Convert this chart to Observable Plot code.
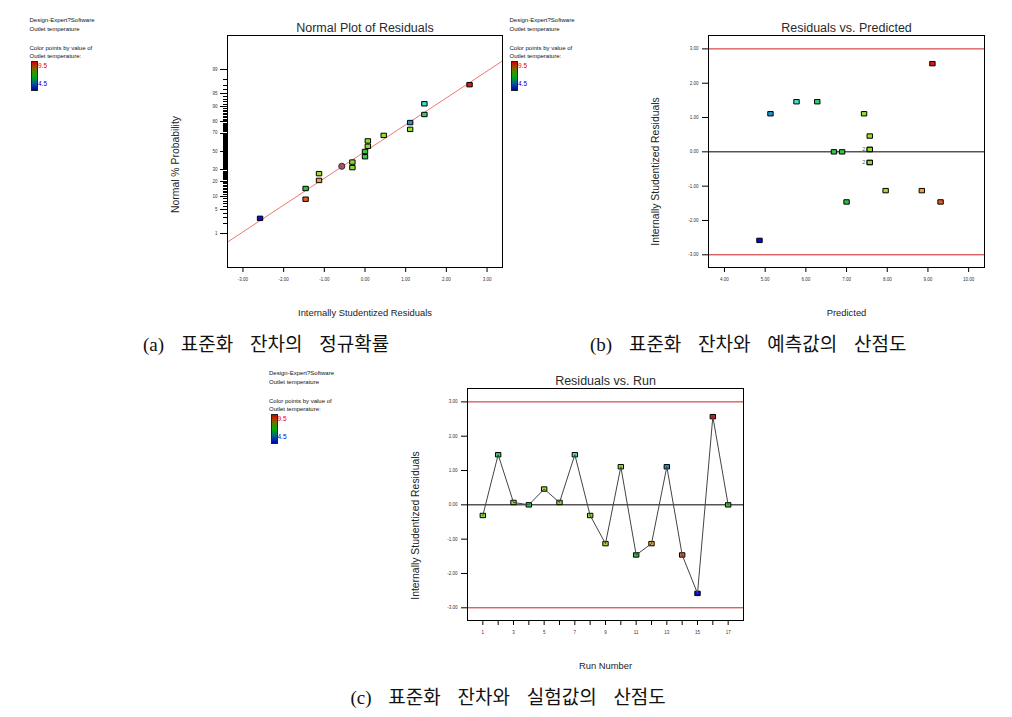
<!DOCTYPE html>
<html>
<head>
<meta charset="utf-8">
<script src="https://cdn.jsdelivr.net/npm/d3@7"></script>
<script src="https://cdn.jsdelivr.net/npm/@observablehq/plot@0.6"></script>
<style>
  html, body { margin: 0; padding: 0; background: #fff; }
  #page { position: relative; width: 1012px; height: 717px; background: #fff; overflow: hidden; }
  .chart { position: absolute; }
  .leg { position: absolute; font-family: "Liberation Sans", Arial, sans-serif; font-size: 6px; color: #111; line-height: 1; white-space: nowrap; }
  .bar { position: absolute; width: 5px; height: 28px; border: 0.6px solid #222;
         background: linear-gradient(#d80000, #7a6a00 25%, #00b000 50%, #006090 75%, #0000b0); }
  .cap { position: absolute; font-family: "Liberation Serif", "Noto Sans CJK KR", serif; font-size: 19px;
         letter-spacing: 0px; word-spacing: 12px; color: #111; line-height: 1; white-space: nowrap; }
</style>
</head>
<body>
<div id="page"></div>
<script>
// ---------------- data ----------------
const runs        = [1, 2, 3, 4, 5, 6, 7, 8, 9, 10, 11, 12, 13, 14, 15, 16, 17];
const predicted   = [7.57, 6.28, 7.57, 6.69, 7.57, 7.57, 5.77, 7.57, 7.96, 7.43, 7.00, 8.85, 5.13, 9.31, 4.86, 9.11, 6.89];
const residuals   = [-0.31, 1.46, 0.07, 0.00, 0.46, 0.07, 1.46, -0.31, -1.13, 1.11, -1.46, -1.13, 1.11, -1.46, -2.58, 2.57, 0.00];
const outletTemp  = [7.52, 6.50, 7.58, 6.69, 7.64, 7.58, 5.99, 7.52, 7.79, 7.60, 6.78, 8.68, 5.30, 9.09, 4.50, 9.50, 6.89];
const normalPct   = [32.4, 85.3, 55.9, 44.1, 67.6, 61.8, 91.2, 38.2, 26.5, 73.5, 14.7, 20.6, 79.4, 8.8, 2.9, 97.1, 50.0];
const highlightPt = [{res: -0.57, pct: 33.8}];
const fitLine     = [{res: -3.38, pct: 0.51}, {res: 3.38, pct: 99.49}];
const overlapMarks = [{pred: 7.57, res: 0.07, count: 2}, {pred: 7.57, res: -0.31, count: 2}];
const limits      = [-3, 3];

const xTicksA  = [-3, -2, -1, 0, 1, 2, 3];
const xTicksB  = [4, 5, 6, 7, 8, 9, 10];
const xTicksC  = [1, 2, 3, 4, 5, 6, 7, 8, 9, 10, 11, 12, 13, 14, 15, 16, 17];
const yTicksRes = [-3, -2, -1, 0, 1, 2, 3];
const probLabels = [1, 5, 10, 20, 30, 50, 70, 80, 90, 95, 99];
const probMinor  = d3.range(1, 100);

const colorStops = [4.5, 5.3, 6.0, 6.8, 7.7, 8.7, 9.5];
const colorRange = ["#0a0ad8", "#2090d0", "#40e0c8", "#30c040", "#a0e030", "#f0a030", "#d81818"];

// ---------------- helpers ----------------
function probit(p) {
  const a = [-3.969683028665376e+01, 2.209460984245205e+02, -2.759285104469687e+02, 1.383577518672690e+02, -3.066479806614716e+01, 2.506628277459239e+00];
  const b = [-5.447609879822406e+01, 1.615858368580409e+02, -1.556989798598866e+02, 6.680131188771972e+01, -1.328068155288572e+01];
  const c = [-7.784894002430293e-03, -3.223964580411365e-01, -2.400758277161838e+00, -2.549732539343734e+00, 4.374664141464968e+00, 2.938163982698783e+00];
  const d = [7.784695709041462e-03, 3.224671290700398e-01, 2.445134137142996e+00, 3.754408661907416e+00];
  const pl = 0.02425, ph = 1 - pl;
  let q, r;
  if (p < pl) {
    q = Math.sqrt(-2 * Math.log(p));
    return (((((c[0]*q+c[1])*q+c[2])*q+c[3])*q+c[4])*q+c[5]) / ((((d[0]*q+d[1])*q+d[2])*q+d[3])*q+1);
  }
  if (p <= ph) {
    q = p - 0.5; r = q * q;
    return (((((a[0]*r+a[1])*r+a[2])*r+a[3])*r+a[4])*r+a[5])*q / (((((b[0]*r+b[1])*r+b[2])*r+b[3])*r+b[4])*r+1);
  }
  q = Math.sqrt(-2 * Math.log(1 - p));
  return -(((((c[0]*q+c[1])*q+c[2])*q+c[3])*q+c[4])*q+c[5]) / ((((d[0]*q+d[1])*q+d[2])*q+d[3])*q+1);
}
const zOf = d => probit(d.pct / 100);
const fmt2 = d => d.toFixed(2);
const majorZ = probLabels.map(p => probit(p / 100));
const majorLabel = new Map(majorZ.map((z, i) => [z, String(probLabels[i])]));
const minorZ = probMinor.map(p => probit(p / 100));

const table = runs.map((run, i) => ({
  run, pred: predicted[i], res: residuals[i], temp: outletTemp[i], pct: normalPct[i]
}));

const box = {
  draw(ctx) {
    ctx.moveTo(-2.7, -2.2); ctx.lineTo(2.7, -2.2); ctx.lineTo(2.7, 2.2); ctx.lineTo(-2.7, 2.2); ctx.closePath();
  }
};

const colorOpt = {type: "linear", domain: colorStops, range: colorRange, interpolate: "rgb"};
const svgStyle = {fontFamily: "Liberation Sans, Arial, sans-serif", fontSize: "4.5px", background: "transparent", overflow: "visible", color: "#000"};
const FONT = "Liberation Sans, Arial, sans-serif";

function titleMark(t, dy) {
  return Plot.text([t], {text: d => d, frameAnchor: "top", lineAnchor: "middle", dy, fontSize: 12.5, fill: "#2a2a2a", fontFamily: FONT});
}
function xLabelMark(t, dy) {
  return Plot.text([t], {text: d => d, frameAnchor: "bottom", lineAnchor: "middle", dy, fontSize: 9.4, fill: "#222", fontFamily: FONT});
}
function yLabelMark(t, dx, dy) {
  return Plot.text([t], {text: d => d, frameAnchor: "left", textAnchor: "middle", lineAnchor: "middle", dx, dy, rotate: -90, fontSize: 10.4, fill: "#222", fontFamily: FONT});
}
function resAxisY() {
  return Plot.axisY({ticks: yTicksRes, tickSize: 6, tickPadding: 4, tickFormat: fmt2, label: null, fill: "#333"});
}

// ---------------- panel (a) ----------------
const chartA = Plot.plot({
  width: 370, height: 320, marginLeft: 87, marginRight: 8, marginTop: 25, marginBottom: 63,
  x: {domain: [-3.38, 3.38], axis: null, label: null},
  y: {domain: [-3.29, 3.29], axis: null, label: null},
  color: colorOpt,
  style: svgStyle,
  marks: [
    Plot.axisX({ticks: xTicksA, tickSize: 5, tickPadding: 5, tickFormat: fmt2, label: null, fill: "#333"}),
    Plot.axisY({ticks: minorZ, tickSize: 4, tickFormat: () => "", label: null, shapeRendering: "crispEdges"}),
    Plot.axisY({ticks: majorZ, tickSize: 7, tickPadding: 3, tickFormat: z => majorLabel.get(z), label: null, fill: "#333", shapeRendering: "crispEdges"}),
    Plot.line(fitLine, {x: "res", y: zOf, stroke: "#ee7777", strokeWidth: 1, clip: true}),
    Plot.dot(highlightPt, {x: "res", y: zOf, r: 3.1, fill: "#a85068", stroke: "#333", strokeWidth: 1}),
    Plot.dot(table, {x: "res", y: zOf, symbol: box, fill: "temp", stroke: "#000", strokeWidth: 1}),
    Plot.frame({stroke: "#000", strokeWidth: 1}),
    titleMark("Normal Plot of Residuals", -8),
    xLabelMark("Internally Studentized Residuals", 45),
    yLabelMark("Normal % Probability", -52, 13)
  ]
});

// ---------------- panel (b) ----------------
const chartB = Plot.plot({
  width: 380, height: 320, marginLeft: 88, marginRight: 16, marginTop: 25, marginBottom: 63,
  x: {domain: [3.607, 10.39], axis: null, label: null},
  y: {domain: [-3.37, 3.39], axis: null, label: null},
  color: colorOpt,
  style: svgStyle,
  marks: [
    Plot.axisX({ticks: xTicksB, tickSize: 5, tickPadding: 5, tickFormat: fmt2, label: null, fill: "#333"}),
    resAxisY(),
    Plot.ruleY(limits, {stroke: "#cc2020", strokeWidth: 1}),
    Plot.ruleY([0], {stroke: "#000", strokeWidth: 1}),
    Plot.text(overlapMarks, {x: "pred", y: "res", text: d => String(d.count), dx: -6, fontSize: 5.5, fill: "#555"}),
    Plot.dot(table, {x: "pred", y: "res", symbol: box, fill: "temp", stroke: "#000", strokeWidth: 1}),
    Plot.frame({stroke: "#000", strokeWidth: 1}),
    titleMark("Residuals vs. Predicted", -8),
    xLabelMark("Predicted", 45),
    yLabelMark("Internally Studentized Residuals", -53, 20)
  ]
});

// ---------------- panel (c) ----------------
const chartC = Plot.plot({
  width: 370, height: 320, marginLeft: 87, marginRight: 7, marginTop: 23, marginBottom: 65,
  x: {domain: [0, 18], axis: null, label: null},
  y: {domain: [-3.37, 3.39], axis: null, label: null},
  color: colorOpt,
  style: svgStyle,
  marks: [
    Plot.axisX({ticks: xTicksC, tickSize: 5, tickPadding: 5, tickFormat: d => (d % 2 ? String(d) : ""), label: null, fill: "#333"}),
    resAxisY(),
    Plot.ruleY(limits, {stroke: "#cc2020", strokeWidth: 1}),
    Plot.ruleY([0], {stroke: "#000", strokeWidth: 1}),
    Plot.dot(table, {x: "run", y: "res", symbol: box, fill: "temp", stroke: "#000", strokeWidth: 1}),
    Plot.line(table, {x: "run", y: "res", stroke: "#444", strokeWidth: 1}),
    Plot.frame({stroke: "#000", strokeWidth: 1}),
    titleMark("Residuals vs. Run", -8),
    xLabelMark("Run Number", 45),
    yLabelMark("Internally Studentized Residuals", -52, 21)
  ]
});

// ---------------- layout ----------------
const page = document.getElementById("page");
function place(node, left, top) {
  const div = document.createElement("div");
  div.className = "chart";
  div.style.left = left + "px";
  div.style.top = top + "px";
  div.appendChild(node);
  page.appendChild(div);
}
place(chartA, 140, 10);
place(chartB, 620, 10);
place(chartC, 380, 365);

function legend(ox, oy) {
  const lines = [["Design-Expert?Software", 17.3], ["Outlet temperature", 26], ["Color points by value of", 44.7], ["Outlet temperature:", 53.3]];
  for (const [t, y] of lines) {
    const el = document.createElement("div");
    el.className = "leg"; el.textContent = t;
    el.style.left = (ox + 29.5) + "px"; el.style.top = (oy + y) + "px";
    page.appendChild(el);
  }
  const bar = document.createElement("div");
  bar.className = "bar"; bar.style.left = (ox + 31) + "px"; bar.style.top = (oy + 60.5) + "px";
  page.appendChild(bar);
  const hi = document.createElement("div");
  hi.className = "leg"; hi.textContent = "9.5"; hi.style.color = "#e00000"; hi.style.fontSize = "6.5px";
  hi.style.left = (ox + 38) + "px"; hi.style.top = (oy + 63.3) + "px";
  page.appendChild(hi);
  const lo = document.createElement("div");
  lo.className = "leg"; lo.textContent = "4.5"; lo.style.color = "#0000e0"; lo.style.fontSize = "6.5px";
  lo.style.left = (ox + 38) + "px"; lo.style.top = (oy + 80.7) + "px";
  page.appendChild(lo);
}
legend(0, 0);
legend(480, 0);
legend(239.5, 353);

function caption(t, left, cy) {
  const el = document.createElement("div");
  el.className = "cap"; el.textContent = t;
  el.style.left = left + "px"; el.style.top = (cy - 10) + "px";
  page.appendChild(el);
}
caption("(a) 표준화 잔차의 정규확률", 143, 345);
caption("(b) 표준화 잔차와 예측값의 산점도", 590, 345);
caption("(c) 표준화 잔차와 실험값의 산점도", 350.5, 698);
</script>
</body>
</html>
